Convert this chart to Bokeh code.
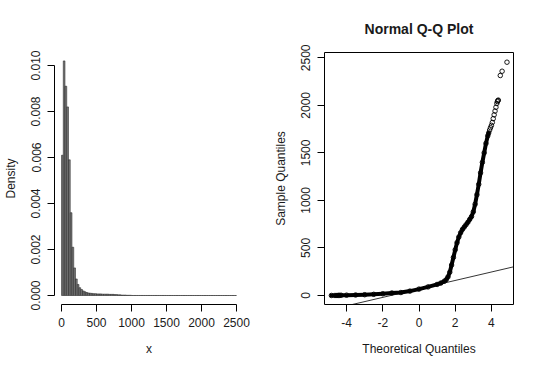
import math
import numpy as np
from bokeh.plotting import figure
from bokeh.layouts import row
from bokeh.models import FixedTicker, PrintfTickFormatter, Slope, Range1d
from bokeh.embed import file_html
from bokeh.resources import INLINE

# ---------------- data ----------------
# histogram (density per bin of width 25, starting at 0)
bin_width = 25
hist_density = [
    0.0061, 0.0102, 0.0091, 0.0082, 0.0059, 0.0036, 0.0021, 0.0012,
    0.00072, 0.00048, 0.00034, 0.00026, 0.00020, 0.00016, 0.00013, 0.00011,
    0.00010, 0.00009, 0.00008, 0.00008, 0.00007, 0.00007, 0.00007, 0.00006,
    0.00006, 0.00006, 0.00006, 0.00005, 0.00005, 0.00005, 0.00004, 0.00004,
    0.00003, 0.00003, 0.00002, 0.00002, 0.00002, 0.00001, 0.00001, 0.00001,
    0.000001, 0.000001, 0.000001, 0.000001, 0.000001, 0.000001, 0.000001, 0.000001,
    0.000001, 0.000001, 0.000001, 0.000001, 0.000001, 0.000001, 0.000001, 0.000001,
    0.000001, 0.000001, 0.000001, 0.000001, 0.0000005, 0.0000005, 0.0000005, 0.0000005,
    0.0000005, 0.0000005, 0.0000005, 0.0000005, 0.0000005, 0.0000005, 0.0000005, 0.0000005,
    0.0000005, 0.0000005, 0.0000005, 0.0000005, 0.0000005, 0.0000005, 0.0000005, 0.0000005,
    0.0000001, 0.0000001, 0.0000001, 0.0000001, 0.0000001, 0.0000001, 0.0000001, 0.0000001,
    0.0000001, 0.0000001, 0.0000001, 0.0000001, 0.0000001, 0.0000001, 0.0000001, 0.0000001,
    0.0000001, 0.0000001, 0.0000001, 0.0000001,
]
hist_x_ticks = [0, 500, 1000, 1500, 2000, 2500]
hist_y_ticks = [0.000, 0.002, 0.004, 0.006, 0.008, 0.010]

# normal Q-Q plot: theoretical vs sample quantiles
qq_theoretical = [
    -4.84, -4.64, -4.53, -4.45, -4.38, -4.30, -4.00, -3.50, -3.00, -2.50,
    -2.00, -1.50, -1.00, -0.50, 0.00, 0.50, 1.00, 1.20, 1.40, 1.50,
    1.60, 1.70, 1.80, 1.90, 2.00, 2.10, 2.20, 2.30, 2.40, 2.50,
    2.60, 2.70, 2.80, 2.90, 3.00, 3.10, 3.20, 3.30, 3.40, 3.50,
    3.60, 3.70, 3.80, 3.85, 3.90, 3.95, 4.00, 4.05, 4.10, 4.15,
    4.20, 4.25, 4.30, 4.33, 4.36, 4.38, 4.49, 4.59, 4.86,
]
qq_sample = [
    0, 0, 0, 1, 1, 2, 3, 5, 8, 12,
    18, 26, 31, 46, 67, 90, 116, 130, 150, 165,
    195, 245, 320, 400, 480, 555, 615, 660, 695, 720,
    745, 770, 800, 830, 880, 960, 1060, 1170, 1290, 1400,
    1500, 1600, 1680, 1710, 1740, 1765, 1790, 1820, 1860, 1900,
    1940, 1980, 2020, 2040, 2050, 2055, 2314, 2359, 2454,
]
qq_dense_count = 44          # points that overlap into a solid band
qq_quartiles = [39, 99]      # sample Q1, Q3 used by qqline
qq_x_ticks = [-4, -2, 0, 2, 4]
qq_y_ticks = [0, 500, 1000, 1500, 2000, 2500]

FONT = "Liberation Sans"
TXT = "#1a1a1a"


def style_axes(p, xb, yb):
    for ax, b in ((p.xaxis[0], xb), (p.yaxis[0], yb)):
        ax.bounds = b
        ax.axis_line_color = "black"
        ax.major_tick_line_color = "black"
        ax.major_tick_out = 7
        ax.major_tick_in = 0
        ax.minor_tick_out = 0
        ax.minor_tick_in = 0
        ax.major_label_text_font = FONT
        ax.major_label_text_font_size = "12px"
        ax.major_label_text_color = TXT
        ax.axis_label_text_font = FONT
        ax.axis_label_text_font_size = "12px"
        ax.axis_label_text_font_style = "normal"
        ax.axis_label_text_color = TXT
    p.xaxis[0].major_label_standoff = 6
    p.xaxis[0].axis_label_standoff = 12
    p.yaxis[0].major_label_standoff = 7
    p.yaxis[0].axis_label_standoff = 11
    p.yaxis[0].major_label_orientation = "parallel"
    p.grid.visible = False


# ---------------- histogram ----------------
edges = np.arange(len(hist_density) + 1) * bin_width
p1 = figure(width=270, height=370, output_backend="svg", toolbar_location=None,
            x_range=Range1d(-100, 2600), y_range=Range1d(-0.000391, 0.010565),
            min_border_left=53, min_border_right=27, min_border_top=52,
            min_border_bottom=66, background_fill_color="white",
            border_fill_color="white")
p1.outline_line_color = None
p1.quad(left=edges[:-1], right=edges[1:], bottom=0, top=hist_density,
        fill_color="#7a7a7a", line_color="#1a1a1a", line_width=0.5)
style_axes(p1, (0, 2500), (0, 0.010))
p1.xaxis[0].ticker = FixedTicker(ticks=hist_x_ticks, minor_ticks=[])
p1.yaxis[0].ticker = FixedTicker(ticks=hist_y_ticks, minor_ticks=[])
p1.xaxis[0].formatter = PrintfTickFormatter(format="%d")
p1.yaxis[0].formatter = PrintfTickFormatter(format="%.3f")
p1.xaxis[0].axis_label = "x"
p1.yaxis[0].axis_label = "Density"

# ---------------- Q-Q plot ----------------
p2 = figure(width=270, height=370, output_backend="svg", toolbar_location=None,
            x_range=Range1d(-5.22, 5.22), y_range=Range1d(-95, 2556),
            min_border_left=52, min_border_right=27, min_border_top=52,
            min_border_bottom=66, title="Normal Q-Q Plot",
            background_fill_color="white", border_fill_color="white")
p2.outline_line_color = "black"
p2.outline_line_width = 1
p2.title.align = "center"
p2.title.text_font = FONT
p2.title.text_font_size = "14px"
p2.title.text_font_style = "bold"
p2.title.text_color = TXT
p2.title.standoff = 32

p2.line(qq_theoretical[:qq_dense_count], qq_sample[:qq_dense_count],
        line_width=4, line_color="black", line_join="round", line_cap="round")
p2.scatter(qq_theoretical, qq_sample, marker="circle", size=4.5,
           fill_color=None, line_color="black", line_width=0.9)

q1, q3 = qq_quartiles
z = 0.6744898
slope = (q3 - q1) / (2 * z)
intercept = (q1 + q3) / 2
p2.add_layout(Slope(gradient=slope, y_intercept=intercept,
                    line_color="black", line_width=0.8))

style_axes(p2, (-4, 4), (0, 2500))
p2.xaxis[0].ticker = FixedTicker(ticks=qq_x_ticks, minor_ticks=[])
p2.yaxis[0].ticker = FixedTicker(ticks=qq_y_ticks, minor_ticks=[])
p2.xaxis[0].formatter = PrintfTickFormatter(format="%d")
p2.yaxis[0].formatter = PrintfTickFormatter(format="%d")
p2.xaxis[0].axis_label = "Theoretical Quantiles"
p2.yaxis[0].axis_label = "Sample Quantiles"

layout = row(p1, p2, spacing=0)
open("out.html", "w").write(file_html(layout, INLINE))
